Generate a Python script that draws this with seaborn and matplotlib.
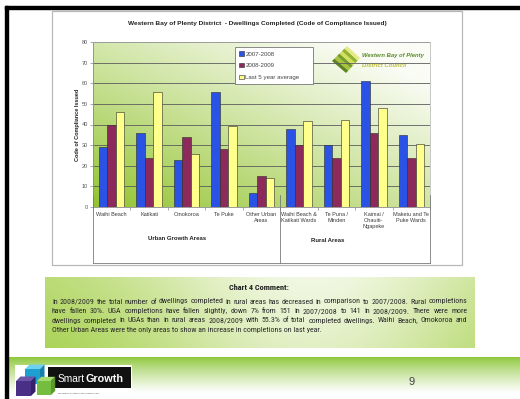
import numpy as np
import pandas as pd
import matplotlib
matplotlib.use("Agg")
import matplotlib.pyplot as plt
import seaborn as sns
from matplotlib.patches import Rectangle, Polygon
from matplotlib import font_manager

# ---------------- data ----------------
categories = ["Waihi Beach", "Katikati", "Omokoroa", "Te Puke", "Other Urban\nAreas",
              "Waihi Beach &\nKatikati Wards", "Te Puna /\nMinden",
              "Kaimai /\nOhauiti-\nNgapeke", "Maketu and Te\nPuke Wards"]
series_names = ["2007-2008", "2008-2009", "Last 5 year average"]
vals_2007 = [29, 36, 23, 56, 7, 38, 30, 61, 35]
vals_2008 = [40, 24, 34, 28, 15, 30, 24, 36, 24]
vals_avg5 = [46, 56, 25.5, 39.5, 14, 41.5, 42, 48, 30.5]
group_names = ["Urban Growth Areas", "Rural Areas"]
group_sizes = [5, 4]
y_ticks = [0, 10, 20, 30, 40, 50, 60, 70, 80]
title = "Western Bay of Plenty District  - Dwellings Completed (Code of Compliance Issued)"
y_label = "Code of Compliance Issued"
comment_title = "Chart 4 Comment:"
comment_lines = [
    "In 2008/2009 the total number of dwellings completed in rural areas has decreased in comparison to 2007/2008. Rural completions",
    "have fallen 30%. UGA completions have fallen slightly, down 7% from 151 in 2007/2008 to 141 in 2008/2009. There were more",
    "dwellings completed in UGAs than in rural areas 2008/2009 with 55.3% of total completed dwellings. Waihi Beach, Omokoroa and",
    "Other Urban Areas were the only areas to show an increase in completions on last year.",
]
page_number = "9"

colors = ["#2a52e4", "#8c2a5c", "#ffff8c"]

df = pd.DataFrame({
    "category": categories * 3,
    "series": [s for s in series_names for _ in categories],
    "value": vals_2007 + vals_2008 + vals_avg5,
})

# ---------------- fonts ----------------
names = {f.name for f in font_manager.fontManager.ttflist}
base_font = "Liberation Sans" if "Liberation Sans" in names else "DejaVu Sans"
narrow_font, narrow_stretch = base_font, "normal"
for cand in ["Liberation Sans Narrow", "Arial Narrow", "Roboto Condensed",
             "Open Sans Condensed", "Noto Sans Condensed", "DejaVu Sans Condensed"]:
    if cand in names:
        narrow_font = cand
        break
else:
    for f in font_manager.fontManager.ttflist:
        if (str(f.stretch) in ("condensed", "semi-condensed")
                and f.name in ("DejaVu Sans", "Noto Sans", "Open Sans", "Roboto")
                and f.style == "normal"
                and str(f.weight).lower() in ("400", "normal", "regular", "book")):
            narrow_font, narrow_stretch = f.name, str(f.stretch)
            break
plt.rcParams["font.family"] = [base_font, "DejaVu Sans"]

W, H = 520, 399
fig = plt.figure(figsize=(W / 100, H / 100), dpi=100)
fig.patch.set_facecolor("white")


def rect(x0, y0, x1, y1):
    return [x0 / W, 1 - y1 / H, (x1 - x0) / W, (y1 - y0) / H]


bg = fig.add_axes([0, 0, 1, 1], zorder=0)
bg.set_xlim(0, W)
bg.set_ylim(H, 0)
bg.axis("off")


def gradient(x0, y0, x1, y1, func, z=1):
    ny, nx = 120, 240
    u = np.linspace(0, 1, nx)[None, :].repeat(ny, 0)
    v = np.linspace(0, 1, ny)[:, None].repeat(nx, 1)
    img = func(u, v)
    bg.imshow(np.clip(img, 0, 1), extent=(x0, x1, y1, y0), aspect="auto",
              interpolation="bilinear", zorder=z)


def mix(c1, c2, t):
    c1 = np.array(c1) / 255.0
    c2 = np.array(c2) / 255.0
    t = np.clip(t, 0, 1)[..., None]
    return c1 + (c2 - c1) * t


# slide frame lines
bg.add_patch(Rectangle((4.5, 5.5), W, 3, color="black", zorder=5))
bg.add_patch(Rectangle((4.5, 5.5), 3, H, color="black", zorder=5))

# chart box
bg.add_patch(Rectangle((52, 11), 410, 254, facecolor="white", edgecolor="#b8b8b8", lw=0.9, zorder=1))

# plot-area gradient
gradient(93, 42, 430, 207,
         lambda u, v: mix((145, 195, 45), (250, 252, 245), (0.55 * u + 0.6 * (1 - v)) ** 0.9), z=2)

# comment box gradient
gradient(45, 277, 475, 348,
         lambda u, v: mix((165, 208, 75), (246, 250, 236),
                          0.2 + 0.75 * np.exp(-((u - 0.62) / 0.42) ** 2) - 0.2 * v), z=2)

# footer band
gradient(8, 357, W, H,
         lambda u, v: mix((140, 198, 55), (255, 255, 255), (v / 0.85) ** 0.8), z=2)

# ---------------- main chart ----------------
ax = fig.add_axes(rect(93, 42, 430, 207), zorder=3)
ax.set_facecolor("none")
sns.barplot(data=df, x="category", y="value", hue="series", order=categories,
            hue_order=series_names, palette=colors, saturation=1, width=0.68,
            edgecolor="#2a2a2a", linewidth=0.4, ax=ax)
ax.set_xlim(-0.5, len(categories) - 0.5)
ax.set_ylim(y_ticks[0], y_ticks[-1])
ax.set_yticks(y_ticks)
ax.yaxis.grid(True, color="#5c5c5c", lw=0.6)
ax.xaxis.grid(False)
ax.set_axisbelow(True)
for s in ["left", "bottom"]:
    ax.spines[s].set_color("#8a8a8a")
    ax.spines[s].set_linewidth(0.6)
for s in ["top", "right"]:
    ax.spines[s].set_color("#b0b0b0")
    ax.spines[s].set_linewidth(0.5)
ax.tick_params(axis="y", labelsize=4, labelcolor="#555555", length=2, width=0.5,
               color="#888888", pad=1.5)
ax.set_xticks(range(len(categories)))
ax.set_xticklabels(categories, fontsize=4, color="#3a3a3a", linespacing=1.25)
ax.tick_params(axis="x", length=0, pad=3.5)
ax.set_xticks(np.arange(-0.5, len(categories), 1.0), minor=True)
ax.tick_params(axis="x", which="minor", length=2.5, width=0.5, color="#888888")
ax.set_xlabel("")
ax.set_ylabel(y_label, fontsize=4, fontweight="bold", color="#222222")
ax.yaxis.set_label_coords((80 - 93) / 337, 0.5)

# legend
handles, labels = ax.get_legend_handles_labels()
leg = ax.legend(handles, labels, loc="upper left", mode="expand",
                bbox_to_anchor=(235 / W, 1 - 47 / H, 78 / W, 0.0),
                bbox_transform=fig.transFigure, fontsize=4.4, frameon=True,
                fancybox=False, framealpha=1, edgecolor="#777777",
                handlelength=0.7, handleheight=0.7, handletextpad=0.3,
                borderpad=0.7, labelspacing=1.05, borderaxespad=0)
leg.get_frame().set_linewidth(0.6)
for t in leg.get_texts():
    t.set_color("#444444")

# group brackets
xt = ax.get_xaxis_transform()
bottom_y = (207 - 263) / 165
top_y = 12 / 165
bounds = np.cumsum([0] + group_sizes) - 0.5
for b in bounds:
    ax.plot([b, b], [top_y, bottom_y], transform=xt, clip_on=False, color="#7a7a7a", lw=0.6, zorder=4)
ax.plot([bounds[0], bounds[-1]], [bottom_y, bottom_y], transform=xt, clip_on=False,
        color="#7a7a7a", lw=0.6, zorder=4)

bg.text(177, 238, group_names[0], ha="center", va="center", fontsize=4.3,
        fontweight="bold", color="#222222", zorder=6)
bg.text(328, 240, group_names[1], ha="center", va="center", fontsize=4.3,
        fontweight="bold", color="#222222", zorder=6)

# ---------------- helpers for fitting text ----------------
renderer = fig.canvas.get_renderer()


def wpx(t):
    return t.get_window_extent(renderer=renderer).width


def fit(t, width):
    t.set_fontsize(t.get_fontsize() * width / wpx(t))
    return t


# title
fit(bg.text(257.5, 23.5, title, ha="center", va="center", fontsize=6, fontweight="bold",
            color="#222222", zorder=6), 261)

# council logo in plot area
L, T, R, B = np.array([332, 61.0]), np.array([347, 46.0]), np.array([360, 58.0]), np.array([346, 73.0])
band_cols = ["#5e8420", "#a9c43a", "#779f28", "#d4df5a", "#92b32e", "#e6ea86"]
n = len(band_cols)
for i, c in enumerate(band_cols):
    s0, s1 = i / n, (i + 1) / n
    pts = [L + (T - L) * s0, L + (T - L) * s1, B + (R - B) * s1, B + (R - B) * s0]
    bg.add_patch(Polygon(pts, closed=True, facecolor=c, edgecolor="none", zorder=6))
fit(bg.text(362, 56, "Western Bay of Plenty", ha="left", va="center", fontsize=5,
            fontweight="bold", fontstyle="italic", color="#5a8a28", zorder=6), 63)
fit(bg.text(362, 65.5, "District Council", ha="left", va="center", fontsize=5,
            fontweight="bold", fontstyle="italic", color="#bcbf3c", zorder=6), 45)

# comment title
fit(bg.text(259, 287, comment_title, ha="center", va="center", fontsize=6,
            fontweight="bold", family=[narrow_font, "DejaVu Sans"], fontstretch=narrow_stretch,
            color="#222222", zorder=6), 60)

# comment paragraph (justified)
pfam = [narrow_font, "DejaVu Sans"]
x_left, x_right = 52, 467
probe = [bg.text(0, 0, l, fontsize=10, family=pfam, fontstretch=narrow_stretch)
         for l in comment_lines[:3]]
maxw = max(wpx(p) for p in probe)
for p in probe:
    p.remove()
fs = 10 * 408 / maxw
line_y = [303.5, 313, 322.5, 332]
for i, line in enumerate(comment_lines):
    if i == len(comment_lines) - 1:
        bg.text(x_left, line_y[i], line, ha="left", va="baseline", fontsize=fs,
                family=pfam, fontstretch=narrow_stretch, color="#2a2a2a", zorder=6)
        continue
    words = line.split(" ")
    tw = [bg.text(0, line_y[i], w_, ha="left", va="baseline", fontsize=fs,
                  family=pfam, fontstretch=narrow_stretch, color="#2a2a2a", zorder=6)
          for w_ in words]
    widths = [wpx(t) for t in tw]
    gap = (x_right - x_left - sum(widths)) / (len(words) - 1)
    x = x_left
    for t, w_ in zip(tw, widths):
        t.set_x(x)
        x += w_ + gap

# SmartGrowth logo
bg.add_patch(Rectangle((15, 365), 117, 34, facecolor="white", edgecolor="none", zorder=5))
bg.add_patch(Rectangle((48, 367), 83, 21, facecolor="#111111", edgecolor="none", zorder=6))


def cube(x, y, s, front, top, side):
    d = s * 0.3
    bg.add_patch(Rectangle((x, y), s, s, facecolor=front, edgecolor="none", zorder=7))
    bg.add_patch(Polygon([(x, y), (x + d, y - d), (x + s + d, y - d), (x + s, y)],
                         facecolor=top, edgecolor="none", zorder=7))
    bg.add_patch(Polygon([(x + s, y), (x + s + d, y - d), (x + s + d, y + s - d), (x + s, y + s)],
                         facecolor=side, edgecolor="none", zorder=7))


cube(25, 369, 15, "#1f9fd0", "#6fd0f0", "#1580aa")
cube(16, 381, 15, "#4a2f86", "#6d55a8", "#36206a")
cube(37, 381, 14, "#74bd3f", "#a6db70", "#5a9a2c")
t1 = bg.text(58, 378.5, "Smart", ha="left", va="center", fontsize=7, color="white", zorder=8)
t1 = fit(t1, 27)
x2 = 58 + wpx(t1)
fit(bg.text(x2, 378.5, "Growth", ha="left", va="center", fontsize=7, fontweight="bold",
            color="white", zorder=8), 38)
fit(bg.text(58, 393.5, "Managing Growth in the Western Bay", ha="left", va="center",
            fontsize=2.5, color="#555555", zorder=8), 42)

# page number
bg.text(412, 382, page_number, ha="center", va="center", fontsize=8, color="#444444", zorder=6)

fig.savefig("out.png", dpi=100, facecolor="white")
